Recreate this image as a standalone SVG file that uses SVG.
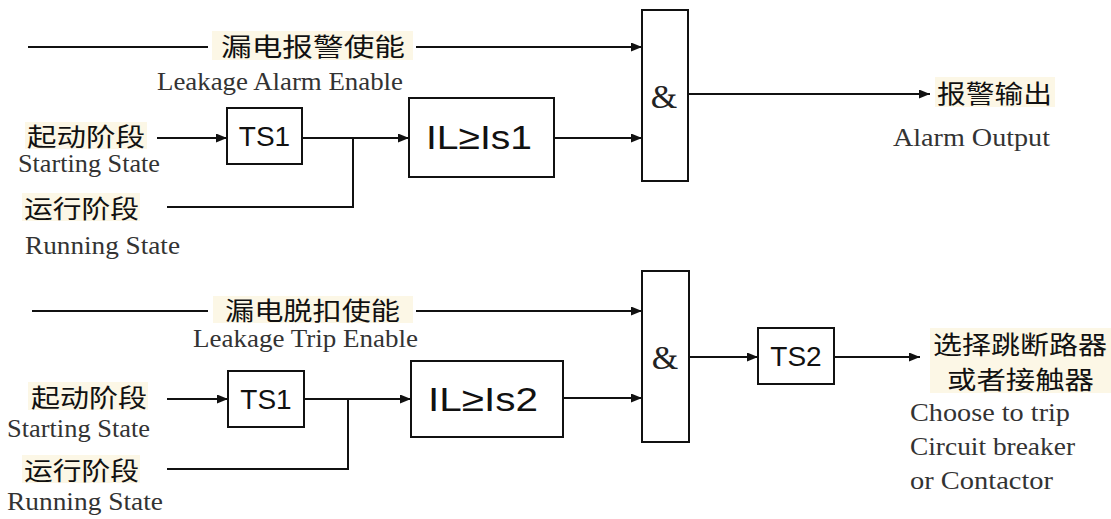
<svg xmlns="http://www.w3.org/2000/svg" width="1111" height="519" viewBox="0 0 1111 519">
<style>
.ln{stroke:#111;stroke-width:2;fill:none}
.ar{marker-end:url(#ah)}
.box{fill:#fff;stroke:#111;stroke-width:2}
.hl{fill:#fcf7e6}
.cn{font-family:"Noto Sans CJK SC",sans-serif;font-size:25px;fill:#111;dominant-baseline:central}
.en{font-family:"Liberation Serif",serif;font-size:25px;fill:#333}
.bx{font-family:"Liberation Sans",Arial,sans-serif;fill:#111;text-anchor:middle}
.amp{font-family:"Liberation Serif",serif;font-size:34px;fill:#222;text-anchor:middle}
</style>
<defs>
<marker id="ah" markerUnits="userSpaceOnUse" markerWidth="11" markerHeight="9" refX="11" refY="4.5" orient="auto">
<path d="M0,0 L11,4.5 L0,9 Z" fill="#111"/>
</marker>
</defs>
<rect width="1111" height="519" fill="#fff"/>

<g id="connectors">
<line class="ln" x1="28" y1="47" x2="208" y2="47"/>
<line class="ln ar" x1="416" y1="47" x2="642" y2="47"/>
<line class="ln ar" x1="157" y1="138" x2="227" y2="138"/>
<line class="ln ar" x1="302" y1="138" x2="409" y2="138"/>
<polyline class="ln" points="167,207 353,207 353,138"/>
<line class="ln ar" x1="554" y1="138" x2="642" y2="138"/>
<line class="ln ar" x1="688" y1="94" x2="930" y2="94"/>
<line class="ln" x1="32" y1="311" x2="208" y2="311"/>
<line class="ln ar" x1="416" y1="311" x2="642" y2="311"/>
<line class="ln ar" x1="167" y1="399" x2="228" y2="399"/>
<line class="ln ar" x1="304" y1="399" x2="411" y2="399"/>
<polyline class="ln" points="167,469 348,469 348,399"/>
<line class="ln ar" x1="563" y1="398" x2="642" y2="398"/>
<line class="ln ar" x1="689" y1="357" x2="758" y2="357"/>
<line class="ln ar" x1="834" y1="357" x2="920" y2="357"/>
</g>

<g id="ts1-top"><rect class="box" x="227" y="108" width="75" height="56"/><text class="bx" x="264.5" y="146" font-size="28">TS1</text></g>
<g id="il-is1"><rect class="box" x="409" y="98" width="145" height="79"/><text class="bx" x="426" y="149" font-size="34" textLength="106" lengthAdjust="spacingAndGlyphs" style="text-anchor:start">IL≥Is1</text></g>
<g id="and-top"><rect class="box" x="642" y="10" width="46" height="171"/><text class="amp" x="664" y="108">&amp;</text></g>

<g id="ts1-bottom"><rect class="box" x="228" y="371" width="76" height="56"/><text class="bx" x="266" y="409" font-size="28">TS1</text></g>
<g id="il-is2"><rect class="box" x="411" y="361" width="152" height="76"/><text class="bx" x="428" y="411" font-size="34" textLength="110" lengthAdjust="spacingAndGlyphs" style="text-anchor:start">IL≥Is2</text></g>
<g id="and-bottom"><rect class="box" x="642" y="271" width="47" height="171"/><text class="amp" x="665" y="369">&amp;</text></g>
<g id="ts2"><rect class="box" x="758" y="328" width="76" height="56"/><text class="bx" x="796" y="366" font-size="28">TS2</text></g>

<g id="label-alarm-enable">
<rect class="hl" x="212" y="31" width="201" height="29"/>
<text class="cn" x="221" y="45" textLength="184" lengthAdjust="spacingAndGlyphs">漏电报警使能</text>
<text class="en" x="157" y="90" textLength="246" lengthAdjust="spacingAndGlyphs">Leakage Alarm Enable</text>
</g>
<g id="label-start-top">
<rect class="hl" x="25" y="122" width="122" height="27"/>
<text class="cn" x="27" y="135" textLength="118" lengthAdjust="spacingAndGlyphs">起动阶段</text>
<text class="en" x="18" y="172" textLength="142" lengthAdjust="spacingAndGlyphs">Starting State</text>
</g>
<g id="label-run-top">
<rect class="hl" x="22" y="193" width="118" height="28"/>
<text class="cn" x="24" y="207" textLength="115" lengthAdjust="spacingAndGlyphs">运行阶段</text>
<text class="en" x="25" y="254" textLength="155" lengthAdjust="spacingAndGlyphs">Running State</text>
</g>
<g id="label-alarm-output">
<rect class="hl" x="935" y="77" width="120" height="30"/>
<text class="cn" x="937" y="92" textLength="115" lengthAdjust="spacingAndGlyphs">报警输出</text>
<text class="en" x="893" y="146" textLength="157" lengthAdjust="spacingAndGlyphs">Alarm Output</text>
</g>

<g id="label-trip-enable">
<rect class="hl" x="213" y="296" width="200" height="27"/>
<text class="cn" x="225" y="309" textLength="175" lengthAdjust="spacingAndGlyphs">漏电脱扣使能</text>
<text class="en" x="193" y="347" textLength="225" lengthAdjust="spacingAndGlyphs">Leakage Trip Enable</text>
</g>
<g id="label-start-bottom">
<rect class="hl" x="28" y="382" width="120" height="28"/>
<text class="cn" x="31" y="396" textLength="116" lengthAdjust="spacingAndGlyphs">起动阶段</text>
<text class="en" x="7" y="437" textLength="143" lengthAdjust="spacingAndGlyphs">Starting State</text>
</g>
<g id="label-run-bottom">
<rect class="hl" x="22" y="455" width="118" height="28"/>
<text class="cn" x="24" y="469" textLength="115" lengthAdjust="spacingAndGlyphs">运行阶段</text>
<text class="en" x="7" y="510" textLength="156" lengthAdjust="spacingAndGlyphs">Running State</text>
</g>
<g id="label-trip-output">
<rect class="hl" x="930" y="328" width="181" height="65"/>
<text class="cn" x="933" y="343" textLength="174" lengthAdjust="spacingAndGlyphs">选择跳断路器</text>
<text class="cn" x="947" y="378" textLength="147" lengthAdjust="spacingAndGlyphs">或者接触器</text>
<text class="en" x="910" y="421" textLength="160" lengthAdjust="spacingAndGlyphs">Choose to trip</text>
<text class="en" x="910" y="455" textLength="165" lengthAdjust="spacingAndGlyphs">Circuit breaker</text>
<text class="en" x="910" y="489" textLength="143" lengthAdjust="spacingAndGlyphs">or Contactor</text>
</g>
</svg>
